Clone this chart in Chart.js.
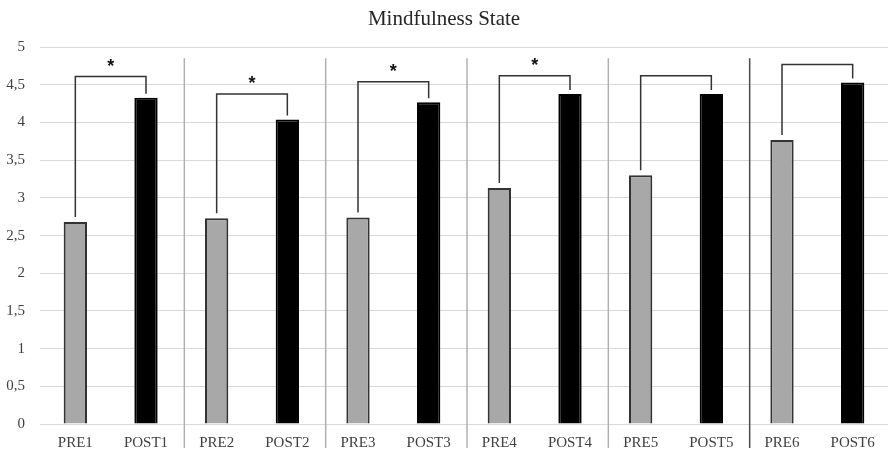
<!DOCTYPE html>
<html lang="en">
<head>
    <meta charset="UTF-8">
    <title>Mindfulness State</title>
    <script src="https://cdn.jsdelivr.net/npm/chart.js"></script>
    <style>
        body {
            margin: 0;
            padding: 0;
            background-color: #fff;
        }
        canvas {
            display: block;
        }
    </style>
</head>
<body>
    <canvas id="mindChart" width="888" height="455"></canvas>

    <script>
        // values
        var labels = ['PRE1', 'POST1', 'PRE2', 'POST2', 'PRE3', 'POST3', 'PRE4', 'POST4', 'PRE5', 'POST5', 'PRE6', 'POST6'];
        var preValues = [2.68, 2.73, 2.74, 3.13, 3.30, 3.77];
        var postValues = [4.33, 4.04, 4.27, 4.38, 4.38, 4.53];
        // height of the comparison bracket for each pair, and whether it got a star
        var bracketTops = [4.61, 4.38, 4.54, 4.62, 4.62, 4.77];
        var significant = [true, true, true, true, false, false];
        var yTicks = [0, 0.5, 1, 1.5, 2, 2.5, 3, 3.5, 4, 4.5, 5];

        var values = [];
        var colors = [];
        var borders = [];
        for (var i = 0; i < preValues.length; i++) {
            values.push(preValues[i], postValues[i]);
            colors.push('#a8a8a8', '#000000');
            borders.push('#333333', '#000000');
        }

        // brackets, stars and the pair separators
        var bracketPlugin = {
            id: 'brackets',
            afterDatasetsDraw: function(chart) {
                var ctx = chart.ctx;
                var x = chart.scales.x;
                var y = chart.scales.y;
                var area = chart.chartArea;
                ctx.save();

                for (var i = 0; i < preValues.length; i++) {
                    var xPre = x.getPixelForValue(2 * i);
                    var xPost = x.getPixelForValue(2 * i + 1);
                    var top = y.getPixelForValue(bracketTops[i]);
                    ctx.strokeStyle = '#333333';
                    ctx.lineWidth = 1.5;
                    ctx.beginPath();
                    ctx.moveTo(xPre, y.getPixelForValue(preValues[i]) - 5);
                    ctx.lineTo(xPre, top);
                    ctx.lineTo(xPost, top);
                    ctx.lineTo(xPost, y.getPixelForValue(postValues[i]) - 4);
                    ctx.stroke();

                    if (significant[i]) {
                        ctx.fillStyle = '#111';
                        ctx.font = 'bold 18px "Liberation Sans"';
                        ctx.textAlign = 'center';
                        ctx.textBaseline = 'alphabetic';
                        ctx.fillText('*', (xPre + xPost) / 2, top - 5);
                    }

                    if (i < preValues.length - 1) {
                        var sx = (xPost + x.getPixelForValue(2 * i + 2)) / 2 + 3;
                        ctx.strokeStyle = i === preValues.length - 2 ? '#4a4a4a' : '#b0b0b0';
                        ctx.lineWidth = 1.5;
                        ctx.beginPath();
                        ctx.moveTo(sx, area.top + 11);
                        ctx.lineTo(sx, area.bottom + 24);
                        ctx.stroke();
                    }
                }
                ctx.restore();
            }
        };

        var ctx = document.getElementById('mindChart').getContext('2d');
        var chart = new Chart(ctx, {
            type: 'bar',
            data: {
                labels: labels,
                datasets: [{
                    data: values,
                    backgroundColor: colors,
                    borderColor: borders,
                    borderWidth: 2,
                    barPercentage: 0.33,
                    categoryPercentage: 1
                }]
            },
            options: {
                responsive: false,
                animation: false,
                devicePixelRatio: 1,
                layout: { padding: 0 },
                plugins: {
                    legend: { display: false },
                    tooltip: { enabled: false },
                    title: {
                        display: true,
                        text: 'Mindfulness State',
                        color: '#262626',
                        font: { family: '"Liberation Serif"', size: 21, weight: 'normal' },
                        padding: { top: 7, bottom: 15 }
                    }
                },
                scales: {
                    x: {
                        grid: { display: false, drawTicks: false },
                        border: { display: false },
                        ticks: {
                            color: '#404040',
                            padding: 10,
                            autoSkip: false,
                            maxRotation: 0,
                            font: { family: '"Liberation Serif"', size: 15 }
                        },
                        afterFit: function(scale) { scale.height = 31; }
                    },
                    y: {
                        min: 0,
                        max: 5,
                        afterBuildTicks: function(scale) {
                            scale.ticks = yTicks.map(function(v) { return { value: v }; });
                        },
                        grid: { color: '#d9d9d9', lineWidth: 1, drawTicks: false },
                        border: { display: false },
                        ticks: {
                            color: '#404040',
                            padding: 15,
                            font: { family: '"Liberation Serif"', size: 15 },
                            callback: function(v) { return String(v).replace('.', ','); }
                        },
                        afterFit: function(scale) { scale.width = 40; }
                    }
                }
            },
            plugins: [bracketPlugin]
        });
    </script>
</body>
</html>
